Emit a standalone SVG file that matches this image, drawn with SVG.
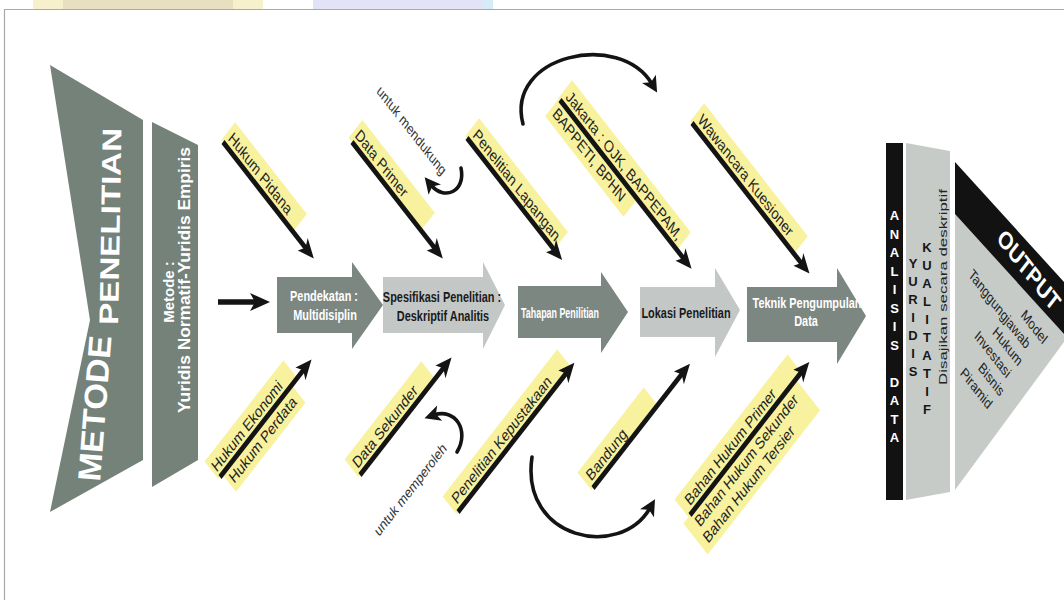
<svg xmlns="http://www.w3.org/2000/svg" width="1064" height="600" viewBox="0 0 1064 600">
  <defs>
    <style>
      .slate{fill:#74827a}
      .dark{fill:#7c8782}
      .light{fill:#c3c8c6}
      .pale{fill:#c6cbc8}
      .ink{fill:#121212}
      .tag{fill:#f8f29f}
      .frame{stroke:#a9a9a9;stroke-width:1.2;fill:none}
      .shaft{stroke:#141414;stroke-width:5.5;fill:none}
      .curl{stroke:#141414;stroke-width:3.6;fill:none;stroke-linecap:round}
      .lbl{font-family:"Liberation Sans",Arial,sans-serif;font-size:16.5px;fill:#1e1e1e}
      .note{font-family:"Liberation Sans",Arial,sans-serif;font-size:15px;fill:#333}
      .bw{font-family:"Liberation Sans",Arial,sans-serif;font-size:14px;font-weight:bold;fill:#fff;text-anchor:middle}
      .bd{font-family:"Liberation Sans",Arial,sans-serif;font-size:14px;font-weight:bold;fill:#1a1a1a;text-anchor:middle}
      .title{font-family:"Liberation Sans",Arial,sans-serif;font-weight:bold;fill:#fff}
      .stack{font-family:"Liberation Sans",Arial,sans-serif;font-size:13px;font-weight:bold;text-anchor:middle}
      .out{font-family:"Liberation Sans",Arial,sans-serif;font-size:15px;fill:#222;text-anchor:end}
    </style>
    <marker id="head" markerUnits="userSpaceOnUse" viewBox="-10 -10 24 20" markerWidth="24" markerHeight="20" refX="0" refY="0" orient="auto" overflow="visible">
      <path d="M-8,-9 L12,0 L-8,9 L-3,0 Z" fill="#141414"/>
    </marker>
    <marker id="tip" markerUnits="userSpaceOnUse" viewBox="-8 -9 20 18" markerWidth="20" markerHeight="18" refX="0" refY="0" orient="auto" overflow="visible">
      <path d="M-6,-8 L10,0 L-6,8 L-2,0 Z" fill="#141414"/>
    </marker>
  </defs>

  <rect width="1064" height="600" fill="#fff"/>

  <!-- faint strip along the top edge -->
  <g id="top-strip">
    <rect x="33" y="0" width="230" height="9" fill="#f6f1cc"/>
    <rect x="63" y="0" width="170" height="9" fill="#ddd4b6" opacity="0.6"/>
    <rect x="313" y="0" width="170" height="9" fill="#e3e3f7"/>
    <rect x="483" y="0" width="10" height="9" fill="#d5ecf7"/>
  </g>
  <path class="frame" d="M4.5,600 V9.5 H1064"/>

  <!-- left title chevron -->
  <g id="metode-penelitian">
    <polygon class="slate" points="50,65 143,120 143,460 50,512 90,320"/>
    <text class="title" font-size="32" textLength="146" lengthAdjust="spacingAndGlyphs" transform="translate(100,482) rotate(-85.5)">METODE</text>
    <text class="title" font-size="27" textLength="197" lengthAdjust="spacingAndGlyphs" transform="translate(118,325) rotate(-89)">PENELITIAN</text>
  </g>

  <g id="metode">
    <polygon class="slate" points="152,122 198,145 198,460 152,487"/>
    <text class="title" font-size="15" text-anchor="middle" transform="translate(174,292) rotate(-90)">Metode :</text>
    <text class="title" font-size="17" text-anchor="middle" textLength="266" lengthAdjust="spacingAndGlyphs" transform="translate(190,280) rotate(-90)">Yuridis Normatif-Yuridis Empiris</text>
  </g>

  <!-- main chain of block arrows -->
  <g id="pendekatan">
    <polygon class="dark" points="277,277 352,277 352,262 383,305 352,349 352,333 277,333"/>
    <text class="bw" transform="translate(324,301) scale(0.78,1)">Pendekatan :</text>
    <text class="bw" transform="translate(325,320) scale(0.78,1)">Multidisiplin</text>
  </g>
  <g id="spesifikasi">
    <polygon class="light" points="383,277 483,277 483,262 505,305 483,349 483,333 383,333"/>
    <text class="bd" transform="translate(442,302) scale(0.78,1)">Spesifikasi Penelitian :</text>
    <text class="bd" transform="translate(443,321) scale(0.78,1)">Deskriptif Analitis</text>
  </g>
  <g id="tahapan">
    <polygon class="dark" points="518,286 601,286 601,272 628,312 601,353 601,338 518,338"/>
    <text class="bw" textLength="100" lengthAdjust="spacingAndGlyphs" transform="translate(560,318) scale(0.78,1)">Tahapan Penilitian</text>
  </g>
  <g id="lokasi">
    <polygon class="light" points="640,287 715,287 715,268 740,310 715,357 715,337 640,337"/>
    <text class="bd" transform="translate(686,318) scale(0.78,1)">Lokasi Penelitian</text>
  </g>
  <g id="teknik">
    <polygon class="dark" points="747,287 837,287 837,268 866,316 837,364 837,342 747,342"/>
    <text class="bw" transform="translate(807,308) scale(0.78,1)">Teknik Pengumpulan</text>
    <text class="bw" transform="translate(806,326) scale(0.78,1)">Data</text>
  </g>

  <!-- labels feeding the chain from above -->
  <g id="hukum-pidana" transform="translate(223,142) scale(0.78,1) rotate(45)">
    <rect class="tag" x="-3" y="-25" width="130" height="25"/>
    <text class="lbl" x="2" y="-6">Hukum Pidana</text>
  </g>
  <g id="data-primer" transform="translate(352,142) scale(0.78,1) rotate(45)">
    <rect class="tag" x="-6" y="-25" width="131" height="25"/>
    <text class="lbl" x="-2" y="-6">Data Primer</text>
  </g>
  <g id="penelitian-lapangan" transform="translate(467,138) scale(0.78,1) rotate(45)">
    <rect class="tag" x="-3" y="-25" width="161" height="25"/>
    <text class="lbl" x="3" y="-6">Penelitian Lapangan</text>
  </g>
  <g id="jakarta" transform="translate(560,100) scale(0.78,1) rotate(45)">
    <rect class="tag" x="-3" y="-25" width="215" height="25"/>
    <rect class="tag" x="-2" y="0" width="142" height="25"/>
    <text class="lbl" x="3" y="-6">Jakarta : OJK, BAPPEPAM,</text>
    <text class="lbl" x="3" y="18">BAPPETI, BPHN</text>
  </g>
  <g id="wawancara" transform="translate(692,123) scale(0.78,1) rotate(45)">
    <rect class="tag" x="-3" y="-25" width="188" height="25"/>
    <text class="lbl" x="3" y="-6">Wawancara Kuesioner</text>
  </g>

  <!-- labels feeding the chain from below -->
  <g id="hukum-ekonomi" transform="translate(220,477) scale(0.78,1) rotate(-45)">
    <rect class="tag" x="-3" y="-25" width="143" height="25"/>
    <rect class="tag" x="4" y="0" width="126" height="25"/>
    <text class="lbl" x="0" y="-6">Hukum Ekonomi</text>
    <text class="lbl" x="8" y="18">Hukum Perdata</text>
  </g>
  <g id="data-sekunder" transform="translate(360,475) scale(0.78,1) rotate(-45)">
    <rect class="tag" x="-3" y="-25" width="139" height="25"/>
    <text class="lbl" x="2" y="-6">Data Sekunder</text>
  </g>
  <g id="penelitian-kepustakaan" transform="translate(458,512) scale(0.78,1) rotate(-45)">
    <rect class="tag" x="-3" y="-25" width="208" height="25"/>
    <text class="lbl" x="4" y="-6">Penelitian Kepustakaan</text>
  </g>
  <g id="bandung" transform="translate(593,488) scale(0.78,1) rotate(-45)">
    <rect class="tag" x="-3" y="-25" width="120" height="25"/>
    <text class="lbl" x="3" y="-6">Bandung</text>
  </g>
  <g id="bahan-hukum" transform="translate(690,515) scale(0.78,1) rotate(-45)">
    <rect class="tag" x="-3" y="-25" width="205" height="25"/>
    <rect class="tag" x="-12" y="0" width="204" height="44"/>
    <text class="lbl" x="6" y="-6">Bahan Hukum Primer</text>
    <text class="lbl" x="0" y="18">Bahan Hukum Sekunder</text>
    <text class="lbl" x="-4" y="37">Bahan Hukum Tersier</text>
  </g>

  <g id="untuk-mendukung">
    <text class="note" transform="translate(376,92) scale(0.78,1) rotate(45)">untuk mendukung</text>
  </g>
  <g id="untuk-memperoleh">
    <text class="note" transform="translate(379,537) scale(0.78,1) rotate(-45)">untuk memperoleh</text>
  </g>

  <!-- analysis and output blocks -->
  <g id="analisis-data">
    <rect class="ink" x="886" y="143" width="17" height="357"/>
    <text class="stack" fill="#fff">
      <tspan x="894.5" y="220">A</tspan><tspan x="894.5" y="238.5">N</tspan><tspan x="894.5" y="257">A</tspan><tspan x="894.5" y="275.5">L</tspan><tspan x="894.5" y="294">I</tspan><tspan x="894.5" y="312.5">S</tspan><tspan x="894.5" y="331">I</tspan><tspan x="894.5" y="349.5">S</tspan><tspan x="894.5" y="386.5">D</tspan><tspan x="894.5" y="405">A</tspan><tspan x="894.5" y="423.5">T</tspan><tspan x="894.5" y="442">A</tspan>
    </text>
  </g>
  <g id="yuridis-kualitatif">
    <polygon class="pale" points="906,143 950,151 950,492 906,500"/>
    <text class="stack" fill="#161616">
      <tspan x="913" y="268">Y</tspan><tspan x="913" y="286">U</tspan><tspan x="913" y="304">R</tspan><tspan x="913" y="322">I</tspan><tspan x="913" y="340">D</tspan><tspan x="913" y="358">I</tspan><tspan x="913" y="376">S</tspan>
    </text>
    <text class="stack" fill="#161616">
      <tspan x="927" y="252">K</tspan><tspan x="927" y="270">U</tspan><tspan x="927" y="288">A</tspan><tspan x="927" y="306">L</tspan><tspan x="927" y="324">I</tspan><tspan x="927" y="342">T</tspan><tspan x="927" y="360">A</tspan><tspan x="927" y="378">T</tspan><tspan x="927" y="396">I</tspan><tspan x="927" y="414">F</tspan>
    </text>
    <text font-family="Liberation Sans, Arial, sans-serif" font-size="14.5" fill="#222" text-anchor="middle" textLength="196" lengthAdjust="spacingAndGlyphs" transform="translate(947,287) rotate(-90) scale(1,0.8)">Disajikan secara deskriptif</text>
  </g>
  <g id="output">
    <polygon class="pale" points="955,214 1064,334 1064,342 955,490"/>
    <polygon class="ink" points="955,162 1064,282 1064,334 955,214"/>
    <text class="title" font-size="25" text-anchor="middle" transform="translate(1024,276) scale(0.78,1) rotate(45)">OUTPUT</text>
    <g transform="translate(955,214) scale(0.78,1) rotate(45)">
      <text class="out" x="172" y="13">Model</text>
      <text class="out" x="160" y="32">Tanggungjawab</text>
      <text class="out" x="165" y="51">Hukum</text>
      <text class="out" x="163" y="70">Investasi</text>
      <text class="out" x="170" y="89">Bisnis</text>
      <text class="out" x="168" y="109">Piramid</text>
    </g>
  </g>

  <!-- connectors -->
  <g id="connectors">
    <line class="shaft" x1="218" y1="302" x2="258" y2="302" marker-end="url(#head)"/>
    <line class="shaft" x1="0" y1="0" x2="152.6" y2="0" marker-end="url(#head)" transform="translate(223,142) scale(0.78,1) rotate(45)"/>
    <line class="shaft" x1="0" y1="0" x2="152.6" y2="0" marker-end="url(#head)" transform="translate(352,142) scale(0.78,1) rotate(45)"/>
    <line class="shaft" x1="0" y1="0" x2="160.4" y2="0" marker-end="url(#head)" transform="translate(467,138) scale(0.78,1) rotate(45)"/>
    <line class="shaft" x1="0" y1="0" x2="226.5" y2="0" marker-end="url(#head)" transform="translate(560,100) scale(0.78,1) rotate(45)"/>
    <line class="shaft" x1="0" y1="0" x2="201" y2="0" marker-end="url(#head)" transform="translate(692,123) scale(0.78,1) rotate(45)"/>
    <line class="shaft" x1="0" y1="0" x2="154" y2="0" marker-end="url(#head)" transform="translate(220,477) scale(0.78,1) rotate(-45)"/>
    <line class="shaft" x1="0" y1="0" x2="154" y2="0" marker-end="url(#head)" transform="translate(360,475) scale(0.78,1) rotate(-45)"/>
    <line class="shaft" x1="0" y1="0" x2="199" y2="0" marker-end="url(#head)" transform="translate(458,512) scale(0.78,1) rotate(-45)"/>
    <line class="shaft" x1="0" y1="0" x2="163.8" y2="0" marker-end="url(#head)" transform="translate(593,488) scale(0.78,1) rotate(-45)"/>
    <line class="shaft" x1="0" y1="0" x2="204.3" y2="0" marker-end="url(#head)" transform="translate(690,515) scale(0.78,1) rotate(-45)"/>
    <path class="curl" d="M461,168 C466,192 444,201 431,185" marker-end="url(#tip)"/>
    <path class="curl" d="M457,452 C470,430 455,408 434,415" marker-end="url(#tip)"/>
    <path class="curl" d="M523,124 C505,55 620,30 652,84" marker-end="url(#tip)"/>
    <path class="curl" d="M532,457 C520,540 620,560 650,508" marker-end="url(#tip)"/>
  </g>
</svg>
